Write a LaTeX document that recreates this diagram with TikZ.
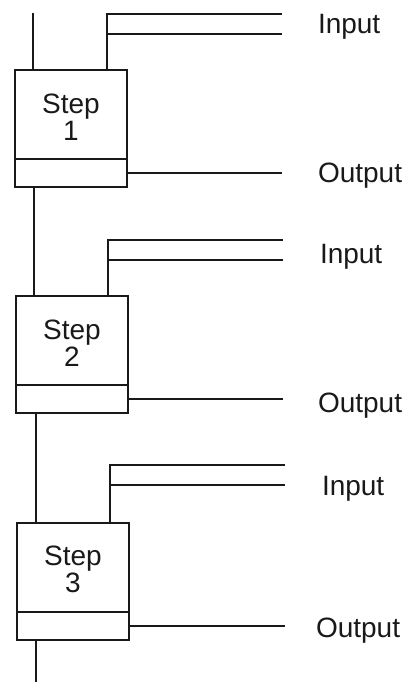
\documentclass[tikz,border=0pt]{standalone}
\usepackage{fontspec}
\setmainfont{Liberation Sans}
\usetikzlibrary{positioning}
\begin{document}
\begin{tikzpicture}[x=1pt,y=-1pt,line width=2pt,color=black!90,
  every node/.style={font=\fontsize{28}{27}\selectfont,inner sep=0pt,outer sep=0pt},
  stepbox/.style={draw,minimum width=112pt,minimum height=89pt,align=center},
  outbox/.style={draw,minimum width=112pt,minimum height=28pt}]
  \path[use as bounding box] (0,0) rectangle (412,682);
  % step 1
  \node[stepbox] (S1) at (71,114.5) {\rule{0pt}{24pt}Step\\1};
  \node[outbox,below=0pt of S1] (O1) {};
  \coordinate (A1) at (33,13);
  \coordinate (J1) at (107,14);
  \coordinate (E1) at (282,14);
  \coordinate (F1) at (282,34);
  \node[anchor=base west] (I1) at (318,34) {Input};
  \node[anchor=base west] (P1) at (318,182) {Output};
  \draw (A1) -- (A1 |- S1.north);
  \draw (J1 |- S1.north) -- (J1) -- (E1) (J1 |- F1) -- (F1);
  \draw (O1.east) -- (O1.east -| E1);
  % step 2
  \node[stepbox] (S2) at (72,340.5) {\rule{0pt}{24pt}Step\\2};
  \node[outbox,below=0pt of S2] (O2) {};
  \coordinate (A2) at (34,240);
  \coordinate (J2) at (108,240);
  \coordinate (E2) at (283,240);
  \coordinate (F2) at (283,260);
  \node[anchor=base west] (I2) at (320,263) {Input};
  \node[anchor=base west] (P2) at (318,412) {Output};
  \draw (O1.south -| A2) -- (S2.north -| A2);
  \draw (J2 |- S2.north) -- (J2) -- (E2) (J2 |- F2) -- (F2);
  \draw (O2.east) -- (O2.east -| E2);
  % step 3
  \node[stepbox] (S3) at (73,567.5) {\rule{0pt}{24pt}Step\\3};
  \node[outbox,below=0pt of S3] (O3) {};
  \coordinate (A3) at (36,682);
  \coordinate (J3) at (110,465);
  \coordinate (E3) at (285,465);
  \coordinate (F3) at (285,485);
  \node[anchor=base west] (I3) at (322,495) {Input};
  \node[anchor=base west] (P3) at (316,637) {Output};
  \draw (O2.south -| A3) -- (S3.north -| A3);
  \draw (J3 |- S3.north) -- (J3) -- (E3) (J3 |- F3) -- (F3);
  \draw (O3.east) -- (O3.east -| E3);
  \draw (O3.south -| A3) -- (A3);
\end{tikzpicture}
\end{document}
